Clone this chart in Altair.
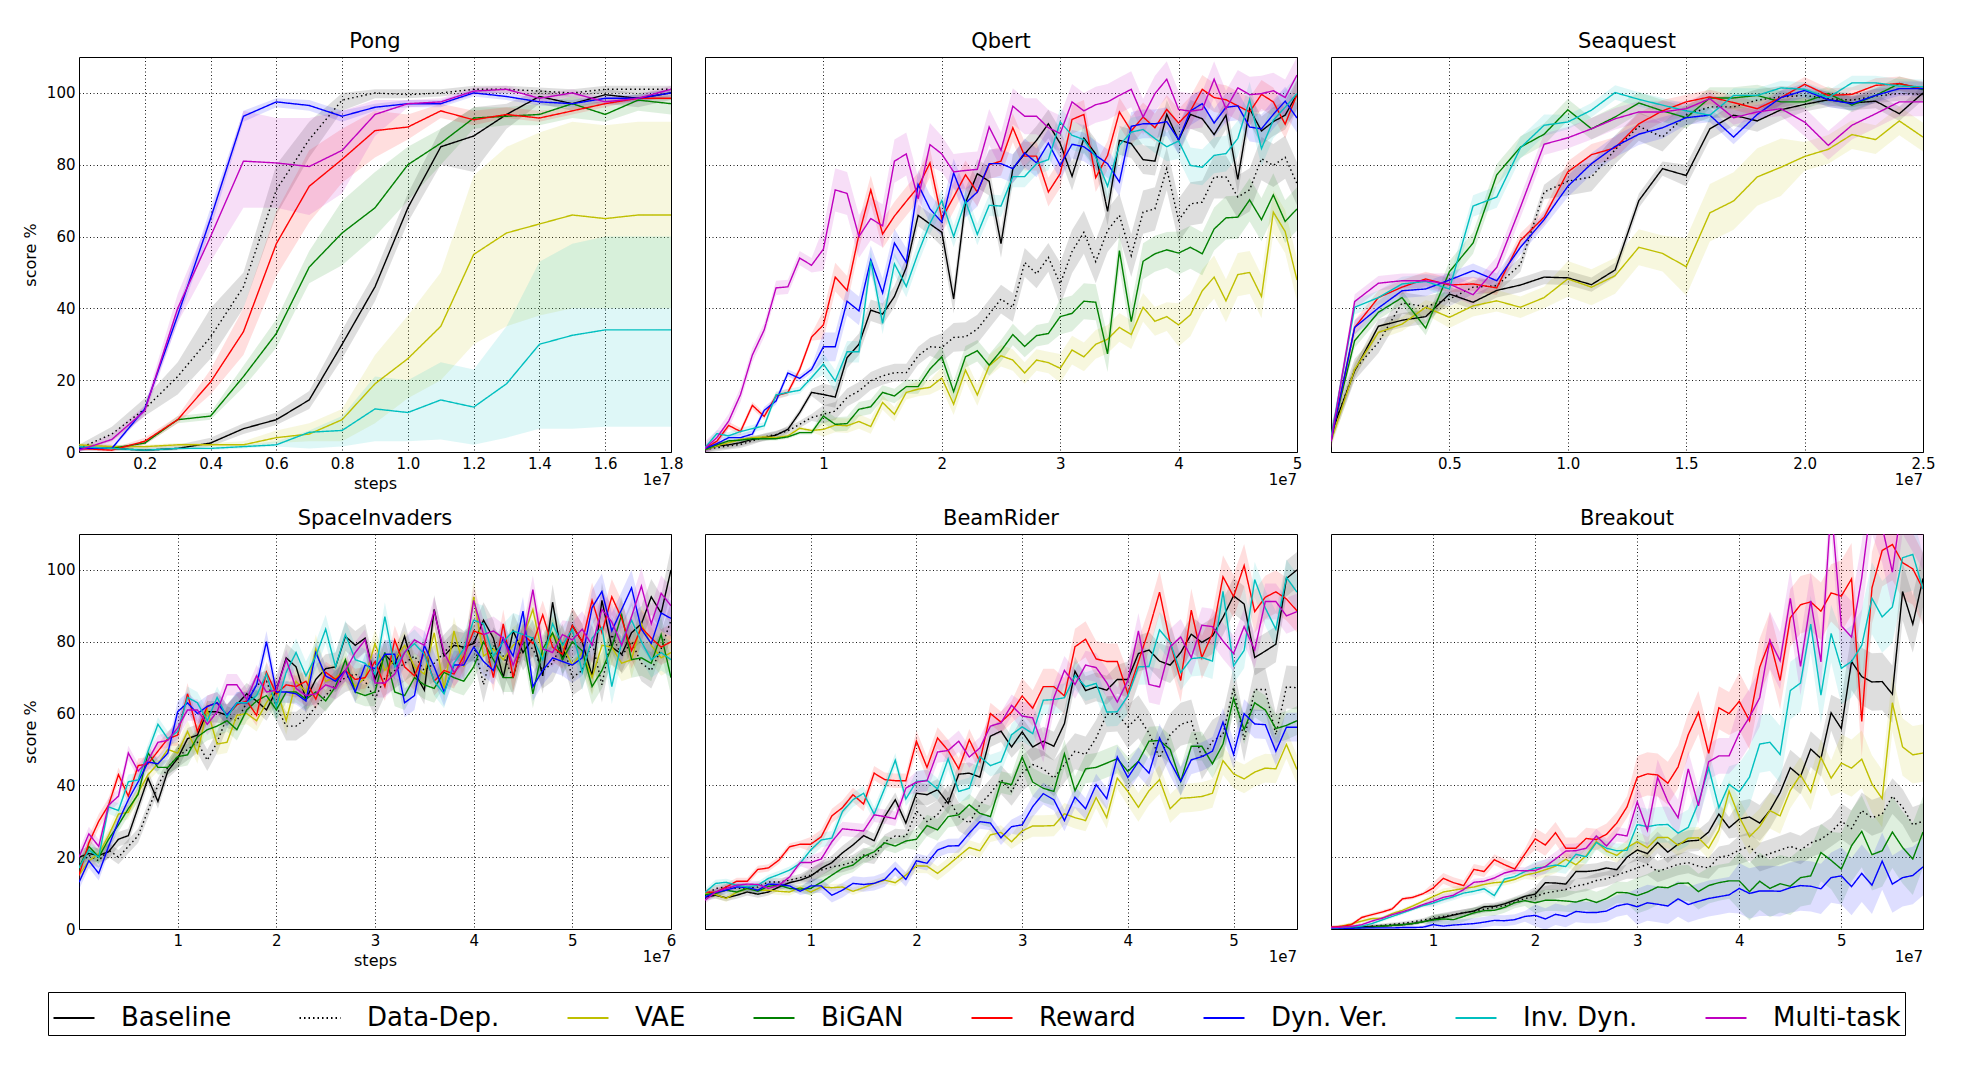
import altair as alt
import pandas as pd

SERIES = ["Baseline", "Data-Dep.", "VAE", "BiGAN", "Reward", "Dyn. Ver.", "Inv. Dyn.", "Multi-task"]
COLORS = ["#000000", "#000000", "#bfbf00", "#008000", "#ff0000", "#0000ff", "#00bfbf", "#bf00bf"]
DASHES = [[1, 0], [1.5, 3], [1, 0], [1, 0], [1, 0], [1, 0], [1, 0], [1, 0]]
Y_TICKS = [0, 20, 40, 60, 80, 100]

PONG_STEPS = [0.0, 0.1, 0.2, 0.3, 0.4, 0.5, 0.6, 0.7, 0.8, 0.9, 1.0, 1.1, 1.2, 1.3, 1.4, 1.5, 1.6, 1.7, 1.8]
PONG = {
    "Baseline":   [1, 1, 0.5, 1, 2.5, 6.5, 9, 14.5, 30, 46, 68, 85, 88, 94, 99, 97, 99.5, 98.5, 100],
    "Data-Dep.":  [1, 5, 12, 21, 32, 46, 73, 87, 98, 100, 99.5, 100, 101, 101, 100.5, 100, 101, 101, 101],
    "VAE":        [2, 1.5, 1.5, 2, 2, 2, 4, 5, 9, 19, 26, 35, 55, 61, 63.5, 66, 65, 66, 66],
    "BiGAN":      [1, 1, 2.5, 9, 10, 21, 33, 51.5, 61, 68, 80, 86, 93, 93.5, 94, 97, 94, 98, 97],
    "Reward":     [1, 0.5, 3, 9, 19.5, 33.5, 58, 74, 81.5, 89.5, 90.5, 95, 92.5, 94, 93, 95, 97, 98.5, 98.5],
    "Dyn. Ver.":  [1, 1, 12, 38, 65, 93.5, 97.5, 96.5, 93.5, 96, 97, 97, 100, 99, 97.5, 97, 98.5, 98.5, 100],
    "Inv. Dyn.":  [1.5, 1, 0.5, 1, 1, 1.5, 2, 5.5, 6, 12, 11, 14.5, 12.5, 19, 30, 32.5, 34, 34, 34],
    "Multi-task": [0.5, 3.5, 11.5, 40, 60, 81, 80.5, 79.5, 84, 94, 97, 97.5, 100.5, 101, 98.5, 100, 97.5, 98.5, 101],
}
PONG_LO = {
    "Baseline":   [0.5, 0.5, 0, 0.5, 1.5, 5, 7.5, 12, 26, 42, 64, 80, 78, 90, 97, 95, 97, 96, 98],
    "Data-Dep.":  [0, 3, 10, 16, 26, 40, 66, 82, 95, 98.5, 98.5, 99, 100, 100, 99.5, 99, 100, 100, 100],
    "VAE":        [1, 1, 1, 1.5, 1.5, 1.5, 2.5, 3, 3, 8, 15, 20, 30, 35, 38, 40, 40, 40, 40],
    "BiGAN":      [0.5, 0.5, 2, 8, 9, 18, 29, 47, 52, 60, 70, 80, 90, 91, 91, 93, 92, 95, 94],
    "Reward":     [0.5, 0, 2, 8, 16, 27, 49, 64, 75, 82, 87, 93, 91, 93, 92, 94, 96, 98, 98],
    "Dyn. Ver.":  [0.5, 0.5, 11, 36, 62, 92, 96, 95, 92, 95, 96, 96, 99, 98, 96.5, 96, 97.5, 97.5, 99],
    "Inv. Dyn.":  [1, 0.5, 0, 0.5, 0.5, 1, 1.5, 1, 1.5, 3, 3, 3.5, 2, 4, 6.5, 6.5, 7, 7, 7],
    "Multi-task": [0, 2, 10, 36, 53, 68, 68, 66, 72, 88, 96, 96.5, 99.5, 100, 97.5, 99, 96.5, 97.5, 100],
}
PONG_HI = {
    "Baseline":   [2, 2, 1.5, 2, 4, 8, 11, 17, 34, 50, 72, 90, 96, 97, 101, 99, 101, 100, 101],
    "Data-Dep.":  [2, 7, 15, 25, 40, 50, 80, 92, 100, 101, 101, 101, 102, 102, 101.5, 101, 102, 102, 102],
    "VAE":        [2.5, 2, 2, 2.5, 2.5, 3, 6, 8, 12, 27, 38, 50, 77, 85, 89, 92, 91, 92, 92],
    "BiGAN":      [1.5, 1.5, 3, 10, 11, 24, 37, 56, 70, 78, 85, 90, 96, 96, 97, 99, 97, 100, 99],
    "Reward":     [1.5, 1, 4, 10, 23, 40, 67, 84, 90, 95, 94, 97, 95, 96, 95, 96, 98, 99, 99.5],
    "Dyn. Ver.":  [1.5, 1.5, 13, 40, 68, 95, 98.5, 98, 95, 97, 98, 98, 101, 100, 98.5, 98, 99.5, 99.5, 101],
    "Inv. Dyn.":  [2, 1.5, 1, 1.5, 1.5, 2, 3, 6, 10, 21, 20, 25, 23, 35, 53, 58, 60, 60, 60],
    "Multi-task": [1, 5, 13, 44, 66, 95, 93, 93, 95, 98, 98, 98.5, 101.5, 102, 99.5, 101, 98.5, 99.5, 102],
}

QBERT_STEPS = [i / 10 for i in range(51)]
QBERT = {
    "Baseline":   [0.7, 1.7, 2, 2.6, 3.5, 4, 4.7, 6.3, 11, 16.6, 16, 15.3, 26.3, 30, 39.5, 38.4, 43.3, 51.4, 65.9, 63.5, 61.2, 42.6, 69.4, 77.5, 75.4, 58, 78.9, 83, 86.8, 91.4, 85.9, 76.8, 87.4, 83, 67, 86.8, 85.9, 81.4, 81, 94, 86.8, 94, 92.8, 88.4, 93.8, 75.9, 95.6, 89.4, 92, 93.8, 99.6],
    "Data-Dep.":  [0.7, 1.2, 1.7, 2.1, 3.1, 4.2, 4.9, 5.9, 7.7, 9.6, 10.5, 11.4, 15.2, 17, 19.8, 21.2, 22.1, 22.1, 26.8, 29.3, 29.1, 31.9, 32.1, 34.2, 38.4, 42.6, 40.3, 52.8, 49.6, 54.2, 46.8, 55.8, 61.2, 53, 61.7, 65.9, 54.7, 66.8, 67.7, 78.9, 64.5, 69.1, 69.6, 76.6, 76.6, 71, 73, 81.7, 79.8, 82.1, 74.7],
    "VAE":        [0.7, 1.7, 2.6, 3.5, 4, 4.2, 4, 4.5, 6.6, 6, 6.3, 7.5, 7.3, 8.5, 7.1, 13.8, 10.5, 16.6, 17.5, 18, 20.6, 13.3, 22.8, 15.9, 24, 26.8, 25.6, 22, 25.6, 24.9, 23.3, 28.4, 26.5, 30, 31.4, 34.7, 32.7, 40.3, 36.4, 37.7, 35.4, 38.2, 44.9, 48.7, 42.1, 49.4, 50, 43.3, 66.8, 61.4, 47.9],
    "BiGAN":      [0.7, 2, 3.1, 3.3, 3.7, 3.7, 3.7, 4.2, 5.4, 5.4, 10, 7.7, 7.9, 11.9, 12.6, 16.6, 15.6, 18.2, 18.2, 23.1, 26.5, 16.8, 26.5, 28.2, 24.2, 28.2, 32.7, 29.4, 32.4, 33, 37.7, 38.6, 42, 41.7, 27.3, 56.1, 36.3, 53.1, 55.2, 56.3, 55.4, 57, 55.2, 62.1, 65.2, 65.4, 70.2, 64.7, 71.6, 64.2, 67.7],
    "Reward":     [1, 3, 7.4, 5.7, 13, 9.9, 15.6, 16.6, 23, 32, 35.4, 48.7, 45, 60.5, 73, 60.7, 65.7, 69.8, 73.8, 80.5, 65, 71, 77.2, 72.4, 80, 81, 90.3, 82.4, 82.4, 72.4, 77.5, 92.6, 94, 76.4, 82.6, 94.7, 89.4, 93.3, 90.3, 95.4, 91.6, 95, 101, 98.7, 98.1, 96.4, 94.7, 99.6, 97.5, 91.3, 99.6],
    "Dyn. Ver.":  [1, 2.3, 4, 4, 5, 11.6, 14.2, 22, 20.5, 23, 29.3, 29.3, 42, 39.3, 53.5, 44.3, 58.2, 52.8, 74.5, 67.7, 64, 77.7, 69.3, 72.4, 80.3, 80.3, 78.9, 83.3, 80.5, 86, 79.8, 85.7, 85, 82.6, 80.3, 75.2, 90.7, 91.4, 91.4, 92, 87, 95, 97, 91.6, 96, 96.4, 90.5, 90, 94, 97.7, 93],
    "Inv. Dyn.":  [1.2, 5.1, 4.5, 5.7, 6.5, 7.3, 15.9, 16.6, 17.2, 20.7, 24.5, 19.8, 27.9, 27.9, 53.3, 35.8, 52.4, 46.1, 55.4, 63.7, 70, 60, 69.9, 60.6, 68.7, 68.5, 76.7, 76.7, 80.3, 81.4, 91.9, 88.2, 87, 82.1, 74, 85.4, 89.1, 89.8, 87.3, 85, 86.6, 79.8, 79.3, 82.6, 83.1, 87.3, 98.1, 84.5, 92.4, 96, 99.8],
    "Multi-task": [1, 4, 8.6, 16, 27, 34, 45.7, 46, 54, 52, 56.5, 73, 72, 60, 65, 63, 81, 83, 70.5, 85.6, 83, 78, 78.4, 78.7, 90.5, 84, 96.3, 93.5, 93.5, 90.3, 88.7, 97.5, 95, 96.7, 97.5, 99.3, 101, 93.3, 99.8, 103.8, 95.4, 94.9, 95.4, 103.8, 95.6, 101.4, 99.5, 99.8, 100.6, 98.7, 105],
}
QBERT_SPREAD = {
    "Baseline": [1, 3, 4, 4, 4, 4], "Data-Dep.": [1, 2.5, 4, 6, 6, 6], "VAE": [0.5, 2, 3, 4, 6, 6],
    "BiGAN": [0.5, 2, 3, 5, 6, 6], "Reward": [1, 4, 4, 4, 4, 4], "Dyn. Ver.": [1, 4, 4, 4, 4, 4],
    "Inv. Dyn.": [1, 3, 3, 4, 5, 5], "Multi-task": [2, 6, 5, 5, 5, 5],
}

SEAQUEST_STEPS = [i / 10 for i in range(26)]
SEAQUEST = {
    "Baseline":   [5, 22.6, 35, 36.7, 37.7, 44, 41.7, 45, 46.5, 48.7, 48.5, 46.6, 50.7, 70, 78.9, 77, 90, 93.8, 92.2, 95.3, 96.8, 98.1, 97.2, 97.7, 94.2, 100],
    "Data-Dep.":  [5, 23, 30.5, 41.5, 40.5, 42.6, 45.9, 46.3, 52.2, 72.4, 75.4, 76.6, 84.2, 90.7, 87.7, 93.8, 96.1, 96.1, 98, 98.9, 99.3, 98.4, 98, 99.1, 99.8, 99.6],
    "VAE":        [3, 23, 33.3, 35.6, 40.3, 37.5, 40.7, 42.1, 40.3, 43, 48.2, 45.9, 49.1, 57, 55.3, 51.6, 66.6, 69.9, 76.6, 79.3, 82.3, 84.3, 88.4, 87, 92.2, 87.7],
    "BiGAN":      [4, 31, 38.9, 43, 34.5, 50.2, 58.2, 77.2, 84.9, 88.5, 95.3, 90, 93.3, 97.2, 95, 93.1, 98.6, 98.6, 99.3, 97.5, 97.5, 99.8, 96.6, 99.3, 102.6, 100.9],
    "Reward":     [3, 34.7, 43, 45.9, 48.2, 46.5, 46.8, 45.7, 58.9, 65.4, 78, 82.8, 84.7, 91.4, 95, 97.5, 98.9, 97.3, 95.6, 98.7, 102.4, 99.3, 99.6, 102.1, 102.6, 101.2],
    "Dyn. Ver.":  [3, 34.7, 40.1, 44.9, 45.4, 47.9, 50.5, 47.7, 57, 64.7, 74, 80.3, 85.1, 88.5, 90.3, 93.1, 93.8, 87.7, 94, 98.7, 100.7, 98.1, 97, 99.3, 101.2, 101.2],
    "Inv. Dyn.":  [4, 40.3, 43, 46.8, 47.5, 45.4, 68.5, 71, 84.7, 91, 91.9, 95.2, 100.1, 98.2, 96.6, 95, 93.8, 99.3, 99.3, 101.4, 101, 98.7, 102.8, 102.8, 101.9, 101.7],
    "Multi-task": [3, 41.9, 47, 47.7, 47.7, 46.8, 43.8, 51.4, 68.2, 85.7, 87.5, 90, 92.8, 94.7, 94.7, 95.6, 98.4, 93.1, 94.7, 95.6, 91.9, 85.4, 91, 94.2, 97.5, 97.5],
}
SEAQUEST_SPREAD = {
    "Baseline": [2, 2, 2, 3, 2, 2], "Data-Dep.": [3, 2, 4, 3, 2, 2], "VAE": [2, 3, 5, 8, 4, 4],
    "BiGAN": [2, 3, 3, 3, 2, 2], "Reward": [2, 2, 3, 2, 2, 2], "Dyn. Ver.": [2, 2, 3, 2, 2, 2],
    "Inv. Dyn.": [2, 3, 2, 2, 2, 2], "Multi-task": [2, 3, 3, 2, 4, 4],
}

SPACE_STEPS = [i / 10 for i in range(61)]
SPACE = {
    "Baseline":   [20, 21, 20.5, 21.5, 25, 26, 34, 42, 35.5, 44, 47.5, 53, 54, 60.5, 60.5, 59.5, 62.5, 65.5, 63.5, 61, 66.5, 75.5, 73, 64, 69.5, 72.5, 73, 81.5, 79, 81, 69.5, 76.5, 73.5, 81.5, 71.5, 66.5, 89, 76, 79, 78.5, 79.5, 86, 81, 70, 83, 77, 81, 70.5, 91, 75, 84.5, 80, 70.5, 91.5, 78.5, 76.5, 82.5, 85, 92.5, 88, 100],
    "Data-Dep.":  [18, 20.5, 19, 22, 20, 23, 26, 33, 40, 45, 48, 50, 52, 47, 52, 59, 58, 63, 68, 69, 62, 56.5, 56.5, 58.5, 62, 65, 68, 70, 71, 69, 64, 70, 72, 74, 76, 72, 74, 77, 80, 78, 80, 68, 79, 76, 70, 80, 78, 72, 74, 80, 70, 72, 80, 68, 82, 76, 80, 74, 72, 78, 86],
    "VAE":        [15, 19, 21, 26, 32, 32.5, 38, 43, 46, 50, 49, 55, 49, 61, 51.5, 52, 59.5, 60, 58, 63, 67, 58, 69, 66, 78, 69, 70, 72, 67.5, 70, 79.5, 72, 75, 79, 73, 71, 82.5, 67, 83, 73, 92.5, 76, 78, 75, 79, 81, 89, 76, 82, 79, 73.5, 77, 70, 79, 78.5, 74, 75, 85, 79, 75.5, 77],
    "BiGAN":      [17, 23, 20, 25, 29, 33.5, 37.5, 49, 45, 45, 48, 48.5, 53.5, 55.5, 56.5, 58, 55.5, 61, 63.5, 65, 61, 66, 66, 64, 66, 63.5, 67.5, 75, 66, 65, 66, 77, 66, 65, 70, 68, 67, 71.5, 70, 69, 73, 80, 75, 70, 70, 81, 65.5, 78, 82.5, 75, 80, 77.5, 67.5, 72, 78.5, 87.5, 75, 75.5, 74, 82, 70],
    "Reward":     [15, 24, 30, 34.5, 43, 37, 45.5, 46, 49.5, 53, 54, 65.5, 55, 62, 63, 59.5, 62.5, 63.5, 59.5, 71.5, 65.5, 68, 67.5, 69, 64, 71.5, 69.5, 72, 69.5, 70, 74.5, 67.5, 80.5, 73, 70.5, 77, 69, 72, 71, 76, 83, 82, 70, 85, 70, 82, 79.5, 87.5, 78.5, 76.5, 84.5, 80, 91.5, 82.5, 92.5, 86.5, 77.5, 84, 81, 78.5, 80],
    "Dyn. Ver.":  [13, 19, 15.5, 23, 30, 36, 41, 46.5, 46, 49, 60.5, 63, 60, 62, 63, 59.5, 63, 63, 68, 80, 66, 66, 65.5, 63.5, 77, 70.5, 69, 72, 66, 73.5, 72.5, 76.5, 76.5, 63, 65, 79, 73, 66, 73.5, 73.5, 78.5, 74.5, 72, 81, 76, 88.5, 67.5, 72, 75.5, 74.5, 73.5, 75.5, 89.5, 94, 83, 89, 95, 83.5, 79.5, 88, 86.5],
    "Inv. Dyn.":  [17, 22, 20, 34, 33, 41, 41.5, 49.5, 57, 53, 55, 64.5, 63, 58, 64.5, 59, 63, 63, 65, 71, 62, 71.5, 77, 70.5, 76, 83.5, 73, 82, 75, 74, 71, 87, 73, 77, 79.5, 76.5, 69, 65.5, 74, 78, 86, 85, 76, 80, 83, 82, 81, 75, 85, 79, 83.5, 71.5, 81, 84, 67.5, 80, 86, 80, 75, 77, 75],
    "Multi-task": [20, 26.5, 23, 34.5, 37, 49, 44, 47, 52, 52.5, 56, 61, 61, 57, 60.5, 68, 68, 64, 70.5, 66, 66.5, 75, 67, 65, 65.5, 68, 67, 72, 77, 80.5, 68.5, 68.5, 71, 77, 80.5, 79, 88.5, 77, 71.5, 74.5, 91.5, 82, 83, 81, 73.5, 80, 94.5, 78, 77, 82, 80.5, 83.5, 79, 89, 85.5, 79, 87, 95.5, 85, 93.5, 90],
}
SPACE_SPREAD = {
    "Baseline": [2, 3, 4, 4, 5, 5, 6], "Data-Dep.": [2, 3, 4, 5, 5, 5, 5], "VAE": [2, 3, 4, 4, 5, 5, 5],
    "BiGAN": [2, 3, 3, 4, 4, 5, 5], "Reward": [2, 3, 3, 4, 4, 5, 5], "Dyn. Ver.": [2, 3, 3, 4, 4, 5, 5],
    "Inv. Dyn.": [2, 3, 4, 4, 5, 5, 5], "Multi-task": [2, 3, 3, 4, 4, 5, 5],
}

BEAM_STEPS = [i / 10 for i in range(57)]
BEAM = {
    "Baseline":   [8.9, 9.4, 8.7, 9.4, 10.3, 9.7, 10.3, 11.7, 12.9, 13.6, 14.7, 16.9, 18.5, 21.2, 23.4, 26, 24.6, 31.3, 36, 29.5, 37.8, 37.4, 38.8, 35, 43.1, 43.4, 42.3, 53.7, 55.1, 50.7, 54.9, 50.7, 52.3, 50.9, 57.2, 71.8, 66.4, 67.4, 66.5, 69.5, 69.5, 76.7, 77.7, 74.6, 73.5, 77, 82.1, 79.8, 81.6, 86.8, 92.8, 90.5, 75.6, 77.4, 79.3, 97.6, 100],
    "Data-Dep.":  [9.4, 11.3, 11.7, 11.3, 11.3, 11.7, 13.1, 13.1, 13.6, 14.3, 15, 16.4, 17.3, 17.8, 18.7, 20.6, 20.1, 24.3, 25.9, 25.7, 32.9, 29.9, 31.8, 36.4, 31.3, 29.5, 34.6, 37.8, 41.6, 38.3, 43.4, 45.8, 44.6, 42, 45.8, 49.5, 48.6, 53.2, 59.8, 60, 56.3, 59.1, 54.6, 47.6, 54.1, 57, 57.9, 47.6, 52.3, 54.1, 67.2, 52.7, 66.7, 66.7, 54.1, 67.4, 67.2],
    "VAE":        [9.9, 9.6, 8.5, 10.2, 11.3, 10.8, 10.8, 10.5, 10.3, 11.6, 10.3, 11.7, 11.5, 11.7, 10.5, 11.5, 12.7, 13.6, 12.9, 15, 17.6, 17.5, 15.5, 17.8, 20.3, 22.7, 21.8, 26.2, 26.9, 24.3, 27.3, 28.7, 28.7, 28.8, 32.1, 31, 30.2, 36.6, 31, 42, 38.3, 33.9, 38.5, 41.6, 33.5, 36.4, 36.6, 36.9, 37.8, 46.9, 43.2, 41.8, 43.7, 44.8, 44.6, 51.4, 44.4],
    "BiGAN":      [9.6, 9.9, 10.8, 10.3, 11.3, 10.5, 11.9, 12.2, 11.3, 11.1, 11.3, 13, 15, 16.9, 17.8, 20.2, 21.5, 24, 23.1, 24.5, 25, 28.8, 27.6, 31.3, 31.8, 34.6, 32.2, 31.3, 40.9, 40.2, 47.9, 40.9, 39.2, 38.3, 48.8, 38.5, 44.6, 45, 46.2, 47.4, 43.9, 46.7, 52.3, 52.5, 50, 41.1, 50.9, 50.9, 46, 51.5, 64.2, 55.5, 63, 61, 55.8, 56.7, 58],
    "Reward":     [10.3, 10.2, 11.7, 13.3, 13.3, 16.6, 17, 19.2, 22.9, 23.6, 23.6, 25.7, 31.5, 33.8, 37.4, 34.8, 43.4, 41.6, 41.3, 41.3, 52.3, 45, 53.2, 49.7, 44.6, 52.7, 46.6, 60, 57.6, 60.4, 64.9, 61.5, 67.5, 67.5, 64.9, 78.6, 80.7, 75.2, 74.5, 74.5, 65.5, 74.5, 83.4, 93.8, 79.8, 69.2, 88.8, 75.6, 82.3, 98.1, 92.6, 101.2, 88.4, 92.4, 93.9, 91.9, 88.6],
    "Dyn. Ver.":  [8.9, 10.2, 10.8, 11.7, 11.6, 10.8, 12.5, 12.4, 12, 10.5, 12, 12, 9.4, 10.8, 12.7, 12.4, 12.7, 13.8, 16.9, 13.8, 19, 18.3, 22, 23.1, 23.2, 26.7, 29.9, 29.5, 25.4, 28.5, 29, 34.1, 37.7, 36, 30.2, 36.7, 33.5, 40.2, 36.3, 47.9, 42.2, 46.6, 43.4, 53.2, 46.6, 41.1, 47.1, 48, 49.5, 57.6, 48.6, 60, 57.1, 56.9, 49.5, 56.2, 56.2],
    "Inv. Dyn.":  [10.2, 12.7, 13, 12.2, 11.7, 12.2, 14.1, 15.2, 16.4, 18.3, 22, 24.8, 25.3, 32.7, 36, 37.8, 32, 39.2, 47, 36.2, 41.1, 41.4, 39, 47.4, 38.3, 39.2, 48, 45.5, 46.6, 54.1, 56.3, 54.4, 63.7, 63.9, 64.4, 70.6, 67.5, 68.4, 60.4, 60.5, 64.9, 73, 73.1, 83.3, 79.8, 71.4, 75.3, 75.6, 74.6, 94, 73.3, 77.6, 97.3, 89.4, 83.5, 97.9, 93.8],
    "Multi-task": [8, 10.3, 11.3, 12.2, 12.5, 12.4, 11.3, 12.2, 14.5, 18.5, 18.5, 19.5, 24.3, 27.9, 27.6, 27.3, 31.8, 31.3, 30.7, 39.2, 40.9, 41.3, 49.3, 49.7, 52.3, 47.9, 50.4, 56.5, 57.4, 62.3, 59.3, 58.8, 50.4, 64.4, 72, 68.1, 73.5, 72.8, 68.6, 63.2, 69.2, 83, 68.1, 67.4, 78.6, 81.3, 75.6, 84.6, 84.2, 80.2, 76.7, 84.2, 77.7, 91.2, 91.2, 87.2, 88.4],
}
BEAM_SPREAD = {
    "Baseline": [1, 2, 3, 4, 5, 5], "Data-Dep.": [1, 2, 4, 5, 6, 6], "VAE": [1, 1, 2, 3, 4, 4],
    "BiGAN": [1, 2, 3, 4, 4, 4], "Reward": [1, 2, 3, 5, 6, 6], "Dyn. Ver.": [1, 2, 2, 3, 4, 4],
    "Inv. Dyn.": [1, 2, 3, 4, 5, 5], "Multi-task": [1, 2, 3, 4, 5, 5],
}

BREAK_STEPS = [i / 10 for i in range(59)]
BREAK = {
    "Baseline":   [0.3, 0.4, 0.5, 0.6, 0.7, 0.8, 1, 1.2, 1.5, 2, 2.7, 3.2, 3.9, 4.5, 5, 6.2, 6.3, 7, 8, 9.1, 9.7, 12.9, 12.8, 12.5, 16, 16, 16.3, 17, 16.5, 20, 22, 21, 24.1, 21.4, 23.6, 24.5, 24.7, 27, 32, 28.2, 30.6, 31.2, 29.5, 33, 38, 44.9, 42.5, 50.1, 47.5, 60.2, 55.8, 74.5, 70.3, 68.8, 68.9, 65.4, 94, 84.9, 97.6],
    "Data-Dep.":  [0.3, 0.4, 0.5, 0.6, 0.8, 1, 1.3, 1.6, 2, 2.5, 3, 3.5, 4, 4.5, 5, 5.5, 6, 6.5, 7.5, 8.5, 9, 10, 10.5, 11, 12, 12.5, 13.5, 14, 15, 16, 17, 18, 16, 17, 18, 18.5, 17.5, 17, 20, 20.5, 22, 23, 20, 21, 22, 23, 22, 24, 25, 27, 30, 28, 33, 31, 32, 37, 34, 29, 30],
    "VAE":        [0.3, 0.8, 1.4, 2.2, 2.9, 3, 4.3, 5.2, 6.4, 7.7, 9, 10.3, 10.8, 11.3, 11.7, 12.4, 12.9, 13.1, 13.8, 15, 15.6, 16.5, 17.5, 19.4, 17.9, 20.4, 24.4, 21.7, 20.5, 22.7, 24.3, 22.6, 25.5, 25.5, 23.3, 25.3, 25.4, 22.5, 27.5, 38.4, 31.2, 25.7, 28.5, 33, 31.5, 38.6, 42.9, 38.1, 47.8, 42, 46.2, 44.8, 47.3, 40.4, 36.3, 63, 50.7, 48.5, 49],
    "BiGAN":      [0.3, 0.3, 0.4, 0.4, 0.5, 0.8, 1, 1.2, 1.5, 2, 2.5, 2.8, 2.6, 3.5, 4.5, 5.1, 5.2, 6, 7.3, 7.9, 7.3, 8, 8, 7.8, 7.5, 8.3, 7.4, 8.5, 10.2, 10.1, 9.3, 10.3, 11.7, 11.5, 12.7, 12.8, 10.4, 12.1, 12.9, 13.4, 13.4, 10.4, 13.3, 11.3, 12.6, 11.9, 14.3, 14.8, 21.3, 19.1, 16.7, 23.2, 27.2, 20.7, 21.8, 27, 22.7, 19.5, 27],
    "Reward":     [0.5, 0.7, 1.2, 3.2, 4, 4.7, 5.6, 8.4, 8.8, 9.8, 11.4, 14.1, 12.9, 12.1, 16.6, 16, 19.3, 17.9, 16.7, 20.9, 25.1, 23.4, 26.8, 22.5, 22.5, 25.2, 24.9, 26.4, 29.5, 34, 42.2, 43.2, 42.9, 40.6, 45.1, 54.1, 60.3, 48.9, 61.6, 60, 63.4, 58, 72.9, 80.3, 69.2, 86.7, 90.3, 91.1, 88.5, 93.6, 92.7, 97.5, 57.8, 95, 105.4, 107.1, 102, 100.3, 94.7],
    "Dyn. Ver.":  [0.2, 0.2, 0.2, 0.3, 0.3, 0.3, 0.3, 0.4, 0.4, 0.5, 1.2, 0.8, 1.1, 1.3, 1.5, 1.9, 2.4, 2.3, 2.6, 3.5, 3.8, 2.8, 4.1, 3.5, 4.9, 4.6, 4.6, 5, 6.4, 7, 6.2, 7.3, 6.9, 6.4, 8.4, 6.8, 7.7, 8.5, 9, 9.5, 11.3, 9.9, 10.6, 10.6, 10.5, 11.5, 12.1, 11.9, 11.2, 14.3, 14.8, 11.8, 15.5, 12.2, 18.9, 12.5, 14.3, 14.9, 17.3],
    "Inv. Dyn.":  [0.3, 0.4, 0.6, 0.8, 1.5, 2.5, 3.5, 4.5, 5.5, 6.5, 7.2, 8.2, 9, 10, 10.5, 11.2, 9.3, 13.9, 14.6, 16, 16.9, 17.3, 17.8, 17.4, 20.8, 20.1, 24.1, 22.5, 21.8, 21.9, 29.1, 28.5, 29, 29.1, 26.7, 28.3, 35.2, 44.9, 33.8, 40.3, 38.2, 42.3, 51.5, 52, 48.6, 66.4, 68.5, 84.9, 65.1, 82.3, 72.6, 74.5, 79, 92.1, 86.9, 89.7, 103.4, 104.3, 94.7],
    "Multi-task": [0.4, 0.5, 0.7, 1.2, 2.2, 3, 4, 4.8, 5.7, 6.8, 7.7, 8.8, 9.4, 11, 13, 13.3, 14.2, 15.6, 16.3, 16.2, 16.3, 17.4, 19.5, 21.7, 21.8, 22.5, 25.9, 23.1, 26.4, 25.9, 35.4, 27.5, 42.2, 35.5, 31, 44.6, 34.3, 46.6, 48.2, 48.2, 54.5, 59, 64.4, 80.4, 74.7, 92.1, 73.1, 91.4, 74.4, 118, 84.4, 81.3, 97.8, 120, 112, 99.4, 120, 115, 110],
}
BREAK_SPREAD = {
    "Baseline": [0.5, 1, 2, 3, 5, 8], "Data-Dep.": [0.5, 1, 2, 3, 4, 5], "VAE": [0.5, 1, 2, 3, 5, 8],
    "BiGAN": [0.5, 1.5, 3, 5, 8, 10], "Reward": [0.5, 1.5, 3, 6, 8, 10], "Dyn. Ver.": [0.5, 1.5, 3, 5, 7, 8],
    "Inv. Dyn.": [0.5, 1, 2, 5, 8, 10], "Multi-task": [0.5, 1, 2, 5, 8, 10],
}


def frame(steps, vals, spread=None, seg=1.0, lo=None, hi=None):
    rows = []
    for k, s in enumerate(SERIES):
        for i, x in enumerate(steps):
            v = vals[s][i]
            if lo is not None:
                l, h = lo[s][i], hi[s][i]
            else:
                w = spread[s][int(x / seg + 1e-9)]
                l, h = v - w, v + w
            rows.append({"series": s, "band": s, "x": x, "v": v, "lo": l, "hi": h})
    return pd.DataFrame(rows)


W, H = 592, 395
COLOR_SCALE = alt.Scale(domain=SERIES, range=COLORS)
DASH_SCALE = alt.Scale(domain=SERIES, range=DASHES)
# band fill scale: same colours, listed in reverse so it stays a separate (legend-less) scale
FILL_SCALE = alt.Scale(domain=SERIES[::-1], range=COLORS[::-1])
LEG = alt.Legend(
    orient="none", legendX=-31, legendY=935, direction="horizontal", columns=8, title=None,
    symbolType="stroke", symbolSize=1681, symbolStrokeWidth=2.2, labelFontSize=26,
    labelFont="DejaVu Sans", labelColor="black", labelOffset=25, columnPadding=63,
    padding=4, strokeColor="black", labelLimit=400,
)


def panel(title, df, xmax, xticks, fmt, left):
    xs = alt.Scale(domain=[0, xmax], nice=False, zero=False)
    ys = alt.Scale(domain=[0, 110], nice=False)
    xa = alt.Axis(values=xticks, format=fmt, title="steps" if left else None)
    ya = alt.Axis(values=Y_TICKS, labels=left, title="score %" if left else None)
    base = alt.Chart(df)
    band = base.mark_area(opacity=0.13, clip=True).encode(
        x=alt.X("x:Q", scale=xs, axis=xa),
        y=alt.Y("lo:Q", scale=ys, axis=ya),
        y2="hi:Q",
        fill=alt.Fill("band:N", scale=FILL_SCALE, legend=None),
        detail="band:N",
    )
    line = base.mark_line(strokeWidth=1.4, clip=True).encode(
        x=alt.X("x:Q", scale=xs, axis=xa),
        y=alt.Y("v:Q", scale=ys, axis=ya),
        color=alt.Color("series:N", scale=COLOR_SCALE, legend=LEG),
        strokeDash=alt.StrokeDash("series:N", scale=DASH_SCALE, legend=LEG),
    )
    txt = alt.Chart(pd.DataFrame({"t": ["1e7"]})).mark_text(
        align="right", baseline="top", fontSize=15, font="DejaVu Sans", color="black"
    ).encode(x=alt.value(W), y=alt.value(H + 21), text="t:N")
    return alt.layer(band, line, txt).properties(
        width=W, height=H, title=alt.TitleParams(title, fontSize=21, fontWeight="normal", offset=5)
    )


p1 = panel("Pong", frame(PONG_STEPS, PONG, lo=PONG_LO, hi=PONG_HI), 1.8,
           [0.2, 0.4, 0.6, 0.8, 1.0, 1.2, 1.4, 1.6, 1.8], ".1f", True)
p2 = panel("Qbert", frame(QBERT_STEPS, QBERT, QBERT_SPREAD, 1.0), 5, [1, 2, 3, 4, 5], "d", False)
p3 = panel("Seaquest", frame(SEAQUEST_STEPS, SEAQUEST, SEAQUEST_SPREAD, 0.5), 2.5,
           [0.5, 1.0, 1.5, 2.0, 2.5], ".1f", False)
p4 = panel("SpaceInvaders", frame(SPACE_STEPS, SPACE, SPACE_SPREAD, 1.0), 6, [1, 2, 3, 4, 5, 6], "d", True)
p5 = panel("BeamRider", frame(BEAM_STEPS, BEAM, BEAM_SPREAD, 1.0), 5.6, [1, 2, 3, 4, 5], "d", False)
p6 = panel("Breakout", frame(BREAK_STEPS, BREAK, BREAK_SPREAD, 1.0), 5.8, [1, 2, 3, 4, 5], "d", False)

chart = (
    alt.concat(p1, p2, p3, p4, p5, p6, columns=3, spacing={"row": 82, "column": 34}, bounds="flush")
    .resolve_scale(color="shared", strokeDash="shared", fill="shared")
    .properties(padding={"left": 13, "top": 22, "right": 10, "bottom": 80})
    .configure(font="DejaVu Sans")
    .configure_view(stroke="black", strokeWidth=1)
    .configure_axis(
        grid=True, gridColor="black", gridDash=[1, 2.5], gridOpacity=0.9, gridWidth=1,
        domain=False, ticks=False, labelFontSize=15, titleFontSize=16, labelColor="black",
        titleColor="black", titleFontWeight="normal", labelPadding=4, labelFlush=False,
        labelOverlap=False, titlePadding=4, labelFont="DejaVu Sans", titleFont="DejaVu Sans",
    )
    .configure_axisY(titlePadding=8)
)

chart.save("out.html", embed_options={"renderer": "svg", "actions": False})
